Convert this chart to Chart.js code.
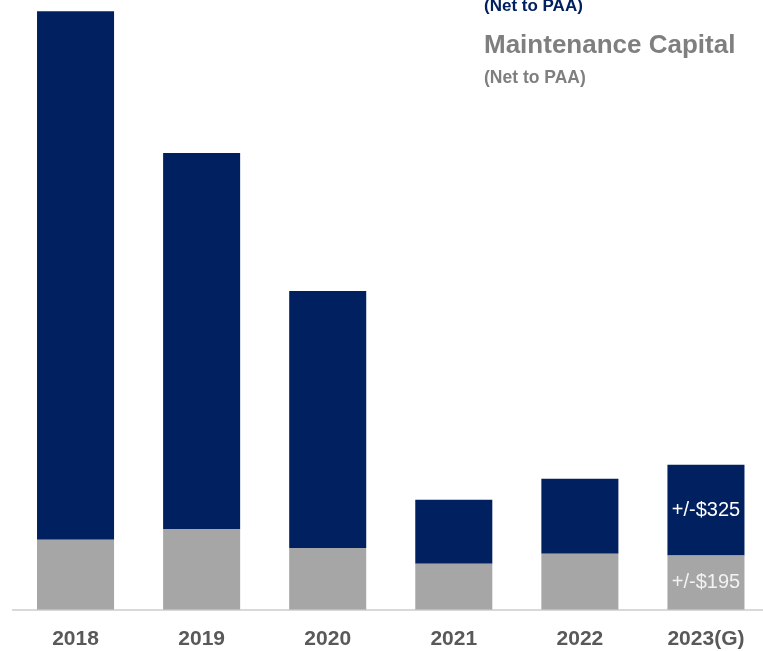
<!DOCTYPE html>
<html>
<head>
<meta charset="utf-8">
<script src="https://cdn.jsdelivr.net/npm/chart.js@4.4.1/dist/chart.umd.min.js"></script>
<style>
    html, body { margin: 0; padding: 0; background: #fff; overflow: hidden; }
    #wrap { position: relative; width: 763px; height: 651px; overflow: hidden; }
    #myChart { position: absolute; left: 0; top: 0; }
    .note { position: absolute; left: 484px; font-family: "Liberation Sans", Arial, sans-serif; font-weight: bold; line-height: 1; white-space: nowrap; }
</style>
</head>
<body>
<div id="wrap">
    <canvas id="myChart" width="769" height="669"></canvas>
    <div class="note" style="top:-3px; font-size:17px; color:#002060;">(Net to PAA)</div>
    <div class="note" style="top:31px; font-size:26px; color:#7f7f7f;">Maintenance Capital</div>
    <div class="note" style="top:69px; font-size:17.5px; color:#7f7f7f;">(Net to PAA)</div>
</div>
<script>
// Years on the x axis
const years = ['2018', '2019', '2020', '2021', '2022', '2023(G)'];
// Maintenance capital (gray, bottom) and investment capital (navy, top), $ millions
const maintenance = [251, 290, 222, 165, 201, 195];
const investment = [1897, 1349, 922, 230, 269, 325];
// Value labels written inside the bars
const maintenanceLabels = ['', '', '', '', '', '+/-$195'];
const investmentLabels = ['', '', '', '', '', '+/-$325'];

const NAVY = '#002060';
const GRAY = '#a6a6a6';

// Draw the text labels inside the guidance bar
const barLabelPlugin = {
    id: 'barLabels',
    afterDatasetsDraw(chart) {
        const ctx = chart.ctx;
        ctx.save();
        ctx.font = '20px "Liberation Sans", Arial, sans-serif';
        ctx.textAlign = 'center';
        ctx.textBaseline = 'middle';
        chart.data.datasets.forEach((ds, i) => {
            const meta = chart.getDatasetMeta(i);
            meta.data.forEach((bar, j) => {
                const text = ds.labelsInBar[j];
                if (!text) return;
                ctx.fillStyle = ds.labelColor;
                ctx.fillText(text, bar.x, (bar.y + bar.base) / 2);
            });
        });
        ctx.restore();
    }
};

const ctx = document.getElementById('myChart');

const chart = new Chart(ctx, {
    type: 'bar',
    data: {
        labels: years,
        datasets: [
            {
                label: 'Maintenance Capital',
                data: maintenance,
                backgroundColor: GRAY,
                labelsInBar: maintenanceLabels,
                labelColor: '#f2f2f2'
            },
            {
                label: 'Investment Capital',
                data: investment,
                backgroundColor: NAVY,
                labelsInBar: investmentLabels,
                labelColor: '#ffffff'
            }
        ]
    },
    options: {
        responsive: false,
        animation: false,
        categoryPercentage: 0.611,
        barPercentage: 1,
        layout: {
            padding: { left: 12.5, right: 0, top: 0, bottom: 0 }
        },
        plugins: {
            legend: { display: false },
            tooltip: { enabled: false }
        },
        scales: {
            x: {
                stacked: true,
                grid: { display: false, drawTicks: false },
                border: { display: true, color: '#d9d9d9', width: 2 },
                ticks: {
                    color: '#595959',
                    padding: 17,
                    font: { family: '"Liberation Sans", Arial, sans-serif', size: 21, weight: 'bold' }
                }
            },
            y: {
                stacked: true,
                display: false,
                min: 0,
                max: 2188
            }
        }
    },
    plugins: [barLabelPlugin]
});
</script>
</body>
</html>
